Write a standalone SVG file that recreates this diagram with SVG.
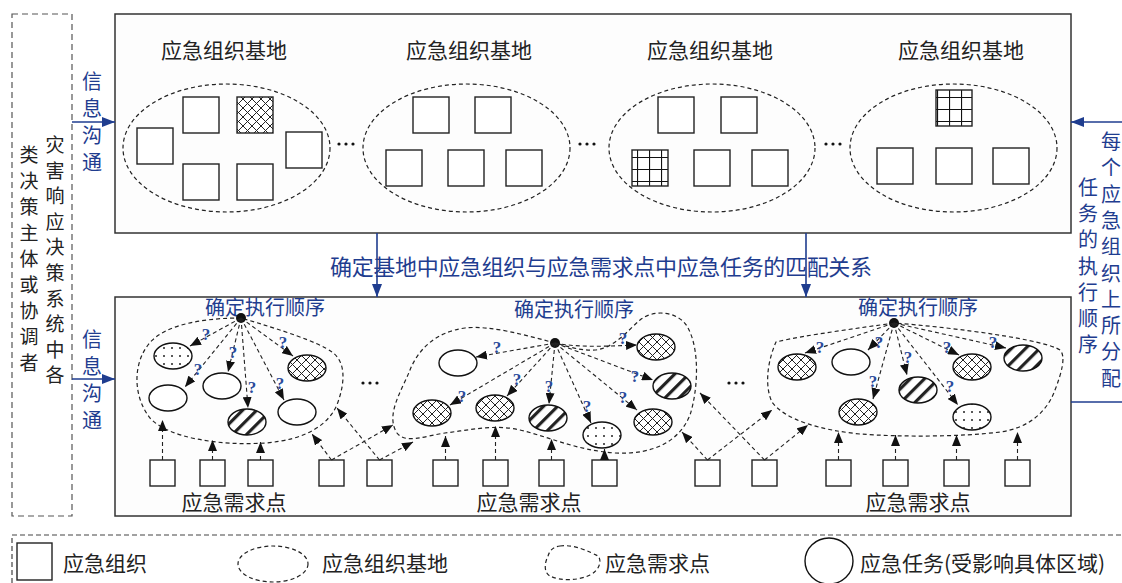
<svg xmlns="http://www.w3.org/2000/svg" width="1122" height="583" viewBox="0 0 1122 583">
<defs>
<style>
.t{font-family:"Noto Sans CJK SC","Noto Sans",sans-serif;fill:#222;}
.b{font-family:"Noto Sans CJK SC","Noto Sans",sans-serif;fill:#1f3d8f;}
.q{font-family:"Liberation Serif",serif;font-size:17px;font-weight:bold;fill:#2a4a9a;text-anchor:middle;}
.sq{fill:#fff;stroke:#222;stroke-width:1.4;}
.el{stroke:#111;stroke-width:1.4;}
.dash{fill:none;stroke:#222;stroke-width:1.2;stroke-dasharray:4 3;}
.arr{fill:none;stroke:#222;stroke-width:1.1;stroke-dasharray:4 3;marker-end:url(#ah);}
.blue{fill:none;stroke:#1f3d8f;stroke-width:1.6;}
</style>
<marker id="ah" markerUnits="userSpaceOnUse" markerWidth="11" markerHeight="9" refX="11" refY="4.5" orient="auto"><path d="M0,0 L11,4.5 L0,9 z" fill="#111"/></marker>
<marker id="bh" markerUnits="userSpaceOnUse" markerWidth="13" markerHeight="10" refX="13" refY="5" orient="auto"><path d="M0,0 L13,5 L0,10 z" fill="#1f3d8f"/></marker>
<pattern id="cross" patternUnits="userSpaceOnUse" width="9" height="9"><rect width="9" height="9" fill="#fff"/><path d="M0,0 L9,9 M9,0 L0,9" stroke="#222" stroke-width="1"/></pattern>
<pattern id="hatch" patternUnits="userSpaceOnUse" width="10" height="10" patternTransform="rotate(45)"><rect width="10" height="10" fill="#fff"/><rect x="0" y="0" width="3.2" height="10" fill="#222"/></pattern>
<pattern id="dots" patternUnits="userSpaceOnUse" width="8" height="8"><rect width="8" height="8" fill="#fff"/><circle cx="4" cy="4" r="1" fill="#222"/></pattern>
<pattern id="grid" patternUnits="userSpaceOnUse" width="12" height="12" x="1" y="1"><rect width="12" height="12" fill="#fff"/><path d="M0,0 H12 M0,0 V12" stroke="#111" stroke-width="2.2"/></pattern>
</defs>
<rect width="1122" height="583" fill="#fff"/>

<!-- left decision-maker box -->
<g id="decision-makers">
<rect x="12" y="14" width="60" height="502" fill="none" stroke="#555" stroke-width="1.2" stroke-dasharray="6 4"/>
<text class="t" font-size="19" text-anchor="middle"><tspan x="55" y="152">灾</tspan><tspan x="55" y="177.6">害</tspan><tspan x="55" y="203.2">响</tspan><tspan x="55" y="228.8">应</tspan><tspan x="55" y="254.4">决</tspan><tspan x="55" y="280">策</tspan><tspan x="55" y="305.6">系</tspan><tspan x="55" y="331.2">统</tspan><tspan x="55" y="356.8">中</tspan><tspan x="55" y="382.4">各</tspan></text>
<text class="t" font-size="19" text-anchor="middle"><tspan x="29" y="162">类</tspan><tspan x="29" y="188">决</tspan><tspan x="29" y="214">策</tspan><tspan x="29" y="240">主</tspan><tspan x="29" y="266">体</tspan><tspan x="29" y="292">或</tspan><tspan x="29" y="318">协</tspan><tspan x="29" y="344">调</tspan><tspan x="29" y="370">者</tspan></text>
</g>

<!-- top box: bases -->
<g id="bases-box">
<rect x="115" y="14" width="956" height="219" fill="#fdfdfd" stroke="#333" stroke-width="1.5"/>
</g>
<g id="base-1">
<text class="t" font-size="21" x="224" y="58" text-anchor="middle">应急组织基地</text>
<ellipse class="dash" cx="226.5" cy="148" rx="103.5" ry="64"/>
<rect class="sq" x="137" y="128" width="36" height="36"/>
<rect class="sq" x="183" y="97" width="36" height="36"/>
<rect class="sq" x="237" y="97" width="36" height="36" style="fill:url(#cross)"/>
<rect class="sq" x="286" y="132" width="36" height="36"/>
<rect class="sq" x="183" y="164" width="36" height="36"/>
<rect class="sq" x="237" y="164" width="36" height="36"/>
</g>
<g id="base-2">
<text class="t" font-size="21" x="469" y="58" text-anchor="middle">应急组织基地</text>
<ellipse class="dash" cx="466.5" cy="148" rx="103.5" ry="64"/>
<rect class="sq" x="413" y="97" width="36" height="36"/>
<rect class="sq" x="475" y="97" width="36" height="36"/>
<rect class="sq" x="386" y="150" width="36" height="36"/>
<rect class="sq" x="448" y="150" width="36" height="36"/>
<rect class="sq" x="506" y="150" width="36" height="36"/>
</g>
<g id="base-3">
<text class="t" font-size="21" x="710" y="58" text-anchor="middle">应急组织基地</text>
<ellipse class="dash" cx="712" cy="148" rx="103" ry="64"/>
<rect class="sq" x="658" y="97" width="36" height="36"/>
<rect class="sq" x="721" y="97" width="36" height="36"/>
<rect class="sq" x="632" y="150" width="36" height="36" style="fill:url(#grid)"/>
<rect class="sq" x="694" y="150" width="36" height="36"/>
<rect class="sq" x="752" y="150" width="36" height="36"/>
</g>
<g id="base-4">
<text class="t" font-size="21" x="961" y="58" text-anchor="middle">应急组织基地</text>
<ellipse class="dash" cx="953.5" cy="148" rx="103.5" ry="64"/>
<rect class="sq" x="936" y="90" width="36" height="36" style="fill:url(#grid)"/>
<rect class="sq" x="877" y="148" width="36" height="36"/>
<rect class="sq" x="936" y="148" width="36" height="36"/>
<rect class="sq" x="993" y="148" width="36" height="36"/>
</g>
<g id="top-ellipsis" fill="#111">
<circle cx="339" cy="144" r="1.6"/><circle cx="346" cy="144" r="1.6"/><circle cx="353" cy="144" r="1.6"/>
<circle cx="580" cy="144" r="1.6"/><circle cx="587" cy="144" r="1.6"/><circle cx="594" cy="144" r="1.6"/>
<circle cx="826" cy="144" r="1.6"/><circle cx="833" cy="144" r="1.6"/><circle cx="840" cy="144" r="1.6"/>
</g>

<!-- bottom box -->
<g id="demand-box">
<rect x="115" y="297" width="956" height="219" fill="#fdfdfd" stroke="#333" stroke-width="1.5"/>
</g>

<g id="group-1">
<path class="dash" d="M241,318 C212,318 165,322 148,345 C132,366 134,398 150,418 C168,438 220,446 265,443 C305,440 330,425 338,402 C345,382 346,362 332,352 C318,342 282,330 241,318 Z"/>
<text class="b" font-size="20" x="265" y="315" text-anchor="middle">确定执行顺序</text>
<circle cx="241" cy="318" r="5" fill="#111"/>
<ellipse class="el" cx="173" cy="356" rx="19" ry="13" fill="url(#dots)"/>
<ellipse class="el" cx="168" cy="398" rx="19" ry="13" fill="#fff"/>
<ellipse class="el" cx="222" cy="386" rx="19" ry="13" fill="#fff"/>
<ellipse class="el" cx="247" cy="422" rx="19" ry="13" fill="url(#hatch)"/>
<ellipse class="el" cx="307" cy="368" rx="19" ry="13" fill="url(#cross)"/>
<ellipse class="el" cx="297" cy="412" rx="19" ry="13" fill="#fff"/>
</g>

<g id="group-2">
<path class="dash" d="M555,343 C525,335 490,325 465,328 C435,332 418,350 410,370 C402,390 385,415 397,433 C405,444 425,436 445,433 C470,430 495,424 520,430 C550,437 575,450 615,453 C655,455 680,440 690,415 C698,390 700,350 688,328 C680,312 655,308 640,320 C628,330 615,348 595,350 C580,351 567,346 555,343 Z"/>
<text class="b" font-size="20" x="574" y="317" text-anchor="middle">确定执行顺序</text>
<circle cx="555" cy="343" r="5" fill="#111"/>
<ellipse class="el" cx="458" cy="363" rx="19" ry="13" fill="#fff"/>
<ellipse class="el" cx="432" cy="413" rx="19" ry="13" fill="url(#cross)"/>
<ellipse class="el" cx="495" cy="408" rx="19" ry="13" fill="url(#cross)"/>
<ellipse class="el" cx="548" cy="418" rx="19" ry="13" fill="url(#hatch)"/>
<ellipse class="el" cx="602" cy="435" rx="19" ry="13" fill="url(#dots)"/>
<ellipse class="el" cx="656" cy="347" rx="19" ry="13" fill="url(#cross)"/>
<ellipse class="el" cx="672" cy="386" rx="19" ry="13" fill="url(#hatch)"/>
<ellipse class="el" cx="653" cy="422" rx="19" ry="13" fill="url(#cross)"/>
</g>

<g id="group-3">
<path class="dash" d="M894,323 C860,328 805,335 776,342 C768,360 764,385 772,402 C785,420 820,430 860,434 C900,437 960,437 1000,432 C1030,428 1048,410 1055,390 C1062,372 1066,356 1060,350 C1045,340 960,328 894,323 Z"/>
<text class="b" font-size="20" x="918" y="315" text-anchor="middle">确定执行顺序</text>
<circle cx="894" cy="323" r="5" fill="#111"/>
<ellipse class="el" cx="797" cy="367" rx="19" ry="13" fill="url(#cross)"/>
<ellipse class="el" cx="851" cy="362" rx="19" ry="13" fill="#fff"/>
<ellipse class="el" cx="858" cy="412" rx="19" ry="13" fill="url(#cross)"/>
<ellipse class="el" cx="918" cy="390" rx="19" ry="13" fill="url(#hatch)"/>
<ellipse class="el" cx="972" cy="367" rx="19" ry="13" fill="url(#cross)"/>
<ellipse class="el" cx="1023" cy="358" rx="19" ry="13" fill="url(#hatch)"/>
<ellipse class="el" cx="972" cy="417" rx="19" ry="13" fill="url(#dots)"/>
</g>

<g id="demand-points">
<rect class="sq" x="150" y="460" width="25" height="26"/>
<rect class="sq" x="200" y="460" width="25" height="26"/>
<rect class="sq" x="248" y="460" width="25" height="26"/>
<rect class="sq" x="319" y="460" width="25" height="26"/>
<rect class="sq" x="367" y="460" width="25" height="26"/>
<rect class="sq" x="433" y="460" width="25" height="26"/>
<rect class="sq" x="483" y="460" width="25" height="26"/>
<rect class="sq" x="539" y="460" width="25" height="26"/>
<rect class="sq" x="592" y="460" width="25" height="26"/>
<rect class="sq" x="695" y="460" width="25" height="26"/>
<rect class="sq" x="752" y="460" width="25" height="26"/>
<rect class="sq" x="826" y="460" width="25" height="26"/>
<rect class="sq" x="883" y="460" width="25" height="26"/>
<rect class="sq" x="944" y="460" width="25" height="26"/>
<rect class="sq" x="1005" y="460" width="25" height="26"/>
<text class="t" font-size="21" x="234" y="510" text-anchor="middle">应急需求点</text>
<text class="t" font-size="21" x="529" y="510" text-anchor="middle">应急需求点</text>
<text class="t" font-size="21" x="918" y="510" text-anchor="middle">应急需求点</text>
</g>
<g id="bottom-ellipsis" fill="#111">
<circle cx="363" cy="383" r="1.6"/><circle cx="370" cy="383" r="1.6"/><circle cx="377" cy="383" r="1.6"/>
<circle cx="729" cy="383" r="1.6"/><circle cx="736" cy="383" r="1.6"/><circle cx="743" cy="383" r="1.6"/>
</g>

<g id="connectors">
<line class="blue" x1="72" y1="122" x2="115" y2="122" marker-end="url(#bh)"/>
<line class="blue" x1="72" y1="379" x2="115" y2="379" marker-end="url(#bh)"/>
<line class="blue" x1="377" y1="233" x2="377" y2="297" marker-end="url(#bh)"/>
<line class="blue" x1="806" y1="233" x2="806" y2="297" marker-end="url(#bh)"/>
<line class="blue" x1="1122" y1="122" x2="1071" y2="122" marker-end="url(#bh)"/>
<line class="blue" x1="1071" y1="402" x2="1122" y2="402"/>
<line class="arr" x1="241" y1="318" x2="190" y2="346"/>
<line class="arr" x1="241" y1="318" x2="185" y2="387"/>
<line class="arr" x1="241" y1="318" x2="228" y2="372"/>
<line class="arr" x1="241" y1="318" x2="248" y2="408"/>
<line class="arr" x1="241" y1="318" x2="293" y2="356"/>
<line class="arr" x1="241" y1="318" x2="284" y2="400"/>
<line class="arr" x1="555" y1="343" x2="476" y2="357"/>
<line class="arr" x1="555" y1="343" x2="450" y2="405"/>
<line class="arr" x1="555" y1="343" x2="507" y2="396"/>
<line class="arr" x1="555" y1="343" x2="549" y2="404"/>
<line class="arr" x1="555" y1="343" x2="591" y2="423"/>
<path class="arr" d="M555,343 C580,348 610,346 637,345"/>
<line class="arr" x1="555" y1="343" x2="653" y2="380"/>
<line class="arr" x1="555" y1="343" x2="637" y2="410"/>
<line class="arr" x1="894" y1="323" x2="805" y2="353"/>
<line class="arr" x1="894" y1="323" x2="868" y2="350"/>
<line class="arr" x1="894" y1="323" x2="873" y2="399"/>
<line class="arr" x1="894" y1="323" x2="907" y2="375"/>
<line class="arr" x1="894" y1="323" x2="959" y2="355"/>
<line class="arr" x1="894" y1="323" x2="1006" y2="348"/>
<line class="arr" x1="894" y1="323" x2="958" y2="405"/>
<line class="arr" x1="162.5" y1="460" x2="162.5" y2="420"/>
<line class="arr" x1="212.5" y1="460" x2="212.5" y2="440"/>
<line class="arr" x1="260.5" y1="460" x2="260.5" y2="442"/>
<line class="arr" x1="331.5" y1="460" x2="312" y2="434"/>
<line class="arr" x1="331.5" y1="460" x2="393" y2="425"/>
<line class="arr" x1="379.5" y1="460" x2="337" y2="408"/>
<line class="arr" x1="379.5" y1="460" x2="413" y2="442"/>
<line class="arr" x1="445.5" y1="460" x2="445.5" y2="436"/>
<line class="arr" x1="495.5" y1="460" x2="495.5" y2="426"/>
<line class="arr" x1="551.5" y1="460" x2="551.5" y2="439"/>
<line class="arr" x1="604.5" y1="460" x2="604.5" y2="449"/>
<line class="arr" x1="707.5" y1="460" x2="682" y2="432"/>
<line class="arr" x1="707.5" y1="460" x2="772" y2="410"/>
<line class="arr" x1="764.5" y1="460" x2="700" y2="393"/>
<line class="arr" x1="764.5" y1="460" x2="808" y2="425"/>
<line class="arr" x1="838.5" y1="460" x2="838.5" y2="432"/>
<line class="arr" x1="895.5" y1="460" x2="895.5" y2="435"/>
<line class="arr" x1="956.5" y1="460" x2="956.5" y2="435"/>
<line class="arr" x1="1017.5" y1="460" x2="1017.5" y2="432"/>
</g>

<g id="question-marks">
<text class="q" x="206" y="340">?</text>
<text class="q" x="198" y="375">?</text>
<text class="q" x="233" y="358">?</text>
<text class="q" x="252" y="393">?</text>
<text class="q" x="283" y="348">?</text>
<text class="q" x="280" y="389">?</text>
<text class="q" x="497" y="353">?</text>
<text class="q" x="462" y="402">?</text>
<text class="q" x="517" y="385">?</text>
<text class="q" x="549" y="392">?</text>
<text class="q" x="587" y="412">?</text>
<text class="q" x="623" y="344">?</text>
<text class="q" x="635" y="382">?</text>
<text class="q" x="623" y="403">?</text>
<text class="q" x="820" y="353">?</text>
<text class="q" x="879" y="348">?</text>
<text class="q" x="873" y="387">?</text>
<text class="q" x="908" y="363">?</text>
<text class="q" x="947" y="353">?</text>
<text class="q" x="993" y="348">?</text>
<text class="q" x="950" y="392">?</text>
</g>

<g id="labels">
<text class="b" font-size="20" text-anchor="middle"><tspan x="92" y="89">信</tspan><tspan x="92" y="116">息</tspan><tspan x="92" y="143">沟</tspan><tspan x="92" y="170">通</tspan></text>
<text class="b" font-size="20" text-anchor="middle"><tspan x="92" y="347">信</tspan><tspan x="92" y="374">息</tspan><tspan x="92" y="401">沟</tspan><tspan x="92" y="428">通</tspan></text>
<text class="b" font-size="22" x="330" y="275" textLength="542" lengthAdjust="spacing">确定基地中应急组织与应急需求点中应急任务的匹配关系</text>
<text class="b" font-size="20" text-anchor="middle"><tspan x="1111" y="149">每</tspan><tspan x="1111" y="175.3">个</tspan><tspan x="1111" y="201.6">应</tspan><tspan x="1111" y="227.9">急</tspan><tspan x="1111" y="254.2">组</tspan><tspan x="1111" y="280.5">织</tspan><tspan x="1111" y="306.8">上</tspan><tspan x="1111" y="333.1">所</tspan><tspan x="1111" y="359.4">分</tspan><tspan x="1111" y="385.7">配</tspan></text>
<text class="b" font-size="20" text-anchor="middle"><tspan x="1088" y="195">任</tspan><tspan x="1088" y="221.2">务</tspan><tspan x="1088" y="247.4">的</tspan><tspan x="1088" y="273.6">执</tspan><tspan x="1088" y="299.8">行</tspan><tspan x="1088" y="326">顺</tspan><tspan x="1088" y="352.2">序</tspan></text>
</g>

<g id="legend">
<path d="M12,583 V535 H1122" fill="none" stroke="#444" stroke-width="1.2" stroke-dasharray="5 3"/>
<rect class="sq" x="17" y="543" width="35" height="37"/>
<text class="t" font-size="21" x="63" y="571">应急组织</text>
<ellipse class="dash" cx="273" cy="564" rx="35" ry="18"/>
<text class="t" font-size="21" x="322" y="571">应急组织基地</text>
<path class="dash" d="M560,546 C575,544 590,552 598,556 C602,560 600,570 590,575 C578,581 560,581 550,576 C543,572 545,562 548,556 C550,550 553,547 560,546 Z"/>
<text class="t" font-size="21" x="605" y="571">应急需求点</text>
<ellipse cx="829" cy="561" rx="24" ry="23" fill="#fff" stroke="#111" stroke-width="1.4"/>
<text class="t" font-size="21" x="860" y="571">应急任务(受影响具体区域)</text>
</g>
</svg>
